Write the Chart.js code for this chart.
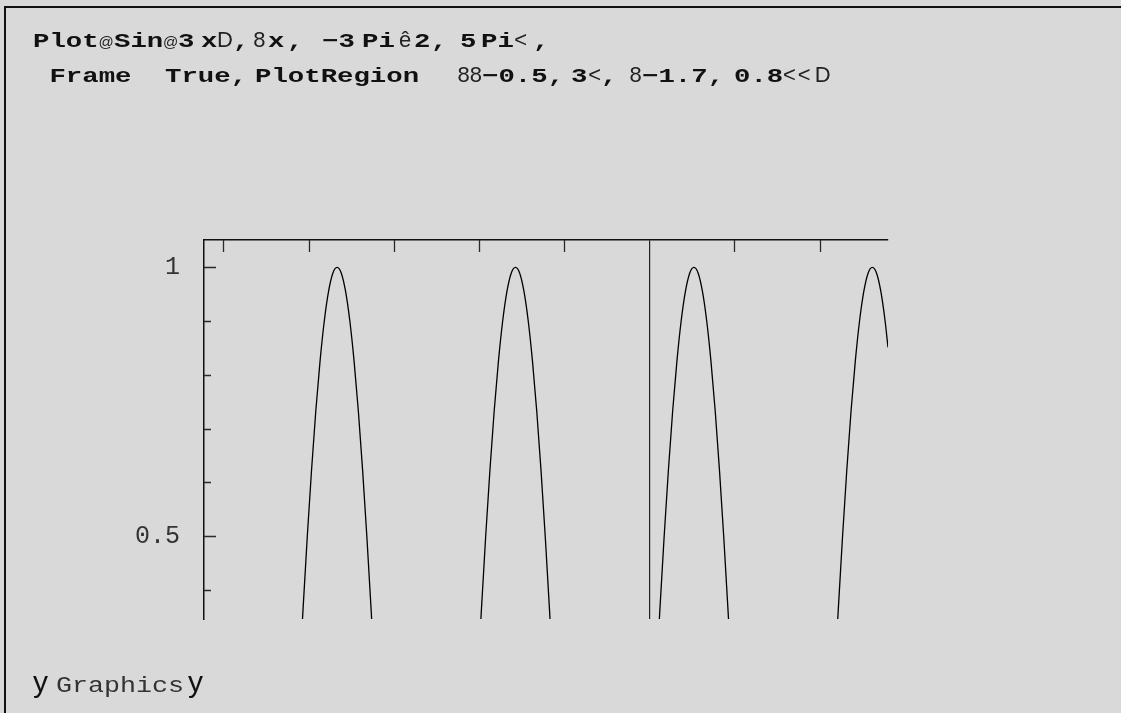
<!DOCTYPE html>
<html>
<head>
<meta charset="utf-8">
<script src="https://cdn.jsdelivr.net/npm/chart.js@4"></script>
<style>
  html, body { margin:0; padding:0; width:1121px; height:713px; overflow:hidden; background:#d9d9d9; }
  #cell { position:absolute; left:4px; top:6px; width:1130px; height:720px; border-left:2px solid #111; border-top:2px solid #111; box-sizing:border-box; }
  #chart { position:absolute; left:0; top:0; z-index:1; }
  .line { position:absolute; left:33px; white-space:pre; z-index:2; font-family:"Liberation Sans", sans-serif; font-size:20px; line-height:24px; color:#111; }
  .tok { display:inline-block; white-space:pre; overflow:visible; vertical-align:baseline; line-height:24px; }
  .tok > span { display:inline-block; transform-origin:0 0; }
  .m > span { font-family:"Liberation Mono", monospace; font-weight:bold; font-size:20px; transform:scaleX(1.367); color:#111; }
  .r > span { font-family:"Liberation Mono", monospace; font-weight:normal; font-size:22px; transform:scaleX(1.212); color:#333; }
  .s { font-family:"Liberation Sans", sans-serif; font-size:22px; color:#222; }
  .a { font-family:"Liberation Sans", sans-serif; font-size:15px; color:#222; }
  .y { font-family:"Liberation Sans", sans-serif; font-size:30px; color:#111; }
  .g { overflow:hidden; }
  #l3 { line-height:36px; }
  #l3 .tok { line-height:36px; }
</style>
</head>
<body>
<div id="cell"></div>
<canvas id="chart" width="1121" height="713"></canvas>
<div class="line" id="l1" style="top:23px"></div>
<div class="line" id="l2" style="top:58px"></div>
<div class="line" id="l3" style="top:656px"></div>
<script>
// ---- chart data ----
const xValues = [
  -4.189,-4.115,-4.065,-4.015,-3.965,-3.915,-3.865,-3.815,-3.765,-3.715,-3.665,-3.615,-3.565,-3.515,-3.465,-3.415,-3.365,-3.315,-3.265,-3.215,-3.142,
  -2.094,-2.021,-1.971,-1.921,-1.871,-1.821,-1.771,-1.721,-1.671,-1.621,-1.571,-1.521,-1.471,-1.421,-1.371,-1.321,-1.271,-1.221,-1.171,-1.121,-1.047,
  0.000,0.074,0.124,0.174,0.224,0.274,0.324,0.374,0.424,0.474,0.524,0.574,0.624,0.674,0.724,0.774,0.824,0.874,0.924,0.974,1.047,
  2.094,2.168,2.218,2.268,2.318,2.368,2.418,2.468,2.518,2.568,2.618,2.668,2.718,2.768,2.802
];
const yValues = [
  0,0.219,0.362,0.498,0.622,0.732,0.825,0.900,0.955,0.989,1,0.989,0.955,0.900,0.825,0.732,0.622,0.498,0.362,0.219,0,
  0,0.219,0.362,0.498,0.622,0.732,0.825,0.900,0.955,0.989,1,0.989,0.955,0.900,0.825,0.732,0.622,0.498,0.362,0.219,0,
  0,0.219,0.362,0.498,0.622,0.732,0.825,0.900,0.955,0.989,1,0.989,0.955,0.900,0.825,0.732,0.622,0.498,0.362,0.219,0,
  0,0.219,0.362,0.498,0.622,0.732,0.825,0.900,0.955,0.989,1,0.989,0.955,0.900,0.851
];
const xTickValues = [-5, -4, -3, -2, -1, 0, 1, 2];
const yTickValues = [0.4, 0.5, 0.6, 0.7, 0.8, 0.9, 1.0];
const yTickLabels = { "1": "1", "0.5": "0.5" };
const xRange = [-5.227, 2.802];
const yRange = [0.3455, 1.0508];

// ---- header / footer text (kind, text, gapWidth) ----
const line1Text = [["m","Plot"],["a","@"],["m","Sin"],["a","@"],["m","3"],["g"," ",6],["m","x"],["s","D"],["m",","],["g"," ",4],["s","8"],["g","",2],["m","x"],["g","",3],["m",","],["g"," ",19],["m","−3"],["g"," ",7],["m","Pi"],["g"," ",4],["s","ê"],["g"," ",3],["m","2"],["m",","],["g"," ",13],["m","5"],["g"," ",5],["m","Pi"],["s","<"],["g","",6],["m",","]];
const line2Text = [["m"," Frame"],["g","  ",34],["m","True,"],["g"," ",8],["m","PlotRegion"],["g","  ",38],["s","88"],["m","−0.5,"],["g"," ",7],["m","3"],["g","",1],["s","<"],["m",","],["g"," ",12],["s","8"],["m","−1.7,"],["g"," ",10],["m","0.8"],["s","<"],["g","",2],["s","<"],["g","",4],["s","D"]];
const line3Text = [["y","y"],["g"," ",8],["r","Graphics"],["g"," ",4],["y","y"]];
const monoAdvance = 16.4;

function buildLine(el, tokens) {
  for (const [kind, text, w] of tokens) {
    const outer = document.createElement('span');
    outer.className = 'tok ' + kind;
    if (kind === 'm' || kind === 'r') {
      outer.style.width = (text.length * (kind === 'm' ? monoAdvance : 16)) + 'px';
      const inner = document.createElement('span');
      inner.textContent = text;
      outer.appendChild(inner);
    } else if (kind === 'g') {
      outer.style.width = w + 'px';
      outer.textContent = text;
    } else {
      outer.textContent = text;
    }
    el.appendChild(outer);
  }
}
buildLine(document.getElementById('l1'), line1Text);
buildLine(document.getElementById('l2'), line2Text);
buildLine(document.getElementById('l3'), line3Text);

// ---- inward tick marks drawn through the chart's scales ----
const innerTicks = {
  id: 'innerTicks',
  afterDraw(chart) {
    const { ctx, chartArea: a, scales: { x, y } } = chart;
    ctx.save();
    ctx.strokeStyle = '#2a2a2a';
    ctx.lineWidth = 1.3;
    ctx.beginPath();
    xTickValues.forEach(v => {
      if (v === 0) return;
      const px = Math.round(x.getPixelForValue(v)) + 0.5;
      ctx.moveTo(px, a.top);
      ctx.lineTo(px, a.top + 12);
    });
    yTickValues.forEach(v => {
      const py = Math.round(y.getPixelForValue(v)) + 0.5;
      const len = (String(v) in yTickLabels) ? 12 : 7;
      ctx.moveTo(a.left, py);
      ctx.lineTo(a.left + len, py);
    });
    ctx.stroke();
    ctx.restore();
  }
};

new Chart(document.getElementById('chart').getContext('2d'), {
  type: 'scatter',
  data: {
    datasets: [{
      data: xValues.map((x, i) => ({ x, y: yValues[i] })),
      showLine: true,
      borderColor: '#000',
      borderWidth: 1.3,
      pointRadius: 0,
      cubicInterpolationMode: 'monotone',
      fill: false
    }]
  },
  options: {
    responsive: false,
    animation: false,
    events: [],
    layout: { padding: { left: 124, top: 230, right: 233, bottom: 94 } },
    plugins: { legend: { display: false }, tooltip: { enabled: false }, title: { display: false } },
    scales: {
      x: {
        type: 'linear',
        position: 'top',
        min: xRange[0],
        max: xRange[1],
        afterBuildTicks: s => { s.ticks = xTickValues.map(v => ({ value: v })); },
        afterFit: s => { s.height = 10; },
        ticks: { display: false },
        grid: {
          drawTicks: false,
          color: c => (c.tick && c.tick.value === 0) ? '#222' : 'rgba(0,0,0,0)',
          lineWidth: 1.2
        },
        border: { display: true, color: '#111', width: 1.5 }
      },
      y: {
        type: 'linear',
        min: yRange[0],
        max: yRange[1],
        afterBuildTicks: s => { s.ticks = yTickValues.map(v => ({ value: v })); },
        afterFit: s => { s.width = 80; },
        ticks: {
          callback: v => yTickLabels[String(v)] || '',
          font: { family: 'Liberation Mono', size: 25 },
          color: '#333',
          padding: 24
        },
        grid: { display: false, drawTicks: false },
        border: { display: true, color: '#111', width: 1.5 }
      }
    }
  },
  plugins: [innerTicks]
});
</script>
</body>
</html>
